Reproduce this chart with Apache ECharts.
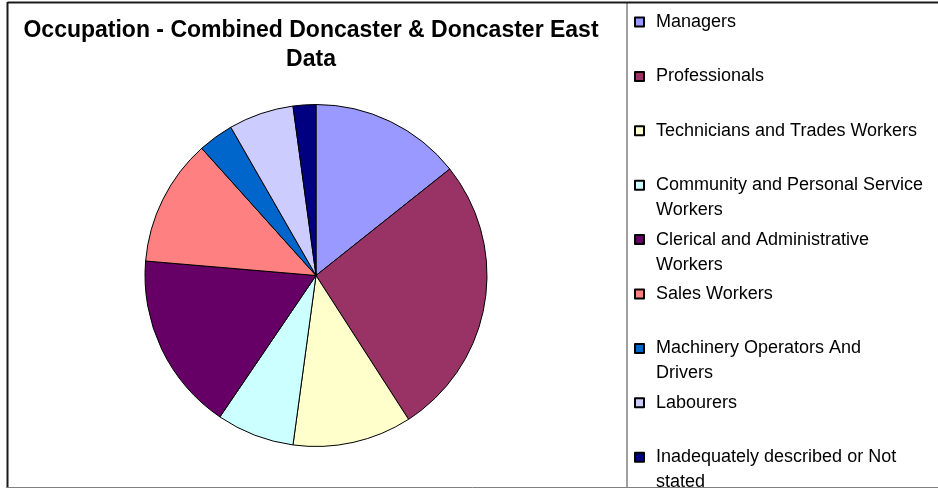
<!DOCTYPE html>
<html>
<head>
<meta charset="utf-8">
<script src="https://cdn.jsdelivr.net/npm/echarts@6/dist/echarts.min.js"></script>
<style>
  html, body { margin: 0; padding: 0; background: #fff; }
  #chart { width: 938px; height: 488px; }
</style>
</head>
<body>
<div id="chart"></div>
<script>
// Occupation shares (%) for Doncaster and Doncaster East combined
const categories = [
  'Managers',
  'Professionals',
  'Technicians and Trades Workers',
  'Community and Personal Service Workers',
  'Clerical and Administrative Workers',
  'Sales Workers',
  'Machinery Operators And Drivers',
  'Labourers',
  'Inadequately described or Not stated'
];
const shares = [14.3, 26.6, 11.25, 7.35, 16.85, 12.0, 3.35, 6.15, 2.15];
const colors = ['#9999FF', '#993366', '#FFFFCC', '#CCFFFF', '#660066', '#FF8080', '#0066CC', '#CCCCFF', '#000080'];
// legend text as it wraps in the key box
const legendLabels = [
  'Managers',
  'Professionals',
  'Technicians and Trades Workers',
  'Community and Personal Service\nWorkers',
  'Clerical and Administrative\nWorkers',
  'Sales Workers',
  'Machinery Operators And\nDrivers',
  'Labourers',
  'Inadequately described or Not\nstated'
];

const FONT = '"Liberation Sans", Arial, sans-serif';
const chart = echarts.init(document.getElementById('chart'), null, { renderer: 'canvas' });

chart.setOption({
  animation: false,
  backgroundColor: '#ffffff',
  title: {
    text: 'Occupation - Combined Doncaster & Doncaster East\nData',
    left: 311,
    textAlign: 'center',
    top: 16,
    padding: 0,
    textStyle: { fontFamily: FONT, fontSize: 23, fontWeight: 'bold', color: '#000', lineHeight: 29 }
  },
  legend: {
    orient: 'vertical',
    left: 634,
    top: -15.5,
    height: 800,
    padding: 0,
    itemWidth: 9,
    itemHeight: 9,
    itemGap: -20.6,
    icon: 'rect',
    selectedMode: false,
    data: categories,
    // every entry is three lines tall with its first text line level with the swatch,
    // so the entries sit at an even pitch whether or not they wrap
    formatter: function (name) {
      const t = legendLabels[categories.indexOf(name)];
      return ' \n' + (t.indexOf('\n') >= 0 ? t : t + '\n ');
    },
    textStyle: {
      fontFamily: FONT, fontSize: 18, color: '#000', lineHeight: 25,
      padding: [0, 0, 0, 7]
    }
  },
  graphic: [
    { type: 'line', shape: { x1: 627, y1: 2, x2: 627, y2: 488 }, style: { stroke: '#404040', lineWidth: 1 }, silent: true },
    { type: 'line', shape: { x1: 7.5, y1: 2.5, x2: 938, y2: 2.5 }, style: { stroke: '#1a1a1a', lineWidth: 2 }, silent: true },
    { type: 'line', shape: { x1: 7.5, y1: 2, x2: 7.5, y2: 488 }, style: { stroke: '#1a1a1a', lineWidth: 2 }, silent: true },
    { type: 'line', shape: { x1: 7, y1: 487.5, x2: 938, y2: 487.5 }, style: { stroke: '#808080', lineWidth: 1 }, silent: true }
  ],
  series: [{
    type: 'pie',
    center: [316, 275.5],
    radius: [0, 171],
    startAngle: 90,
    clockwise: true,
    avoidLabelOverlap: false,
    label: { show: false },
    labelLine: { show: false },
    emphasis: { disabled: true },
    itemStyle: { borderColor: '#000', borderWidth: 1 },
    data: categories.map((name, i) => ({
      name: name,
      value: shares[i],
      itemStyle: { color: colors[i] }
    }))
  }]
});
</script>
</body>
</html>
